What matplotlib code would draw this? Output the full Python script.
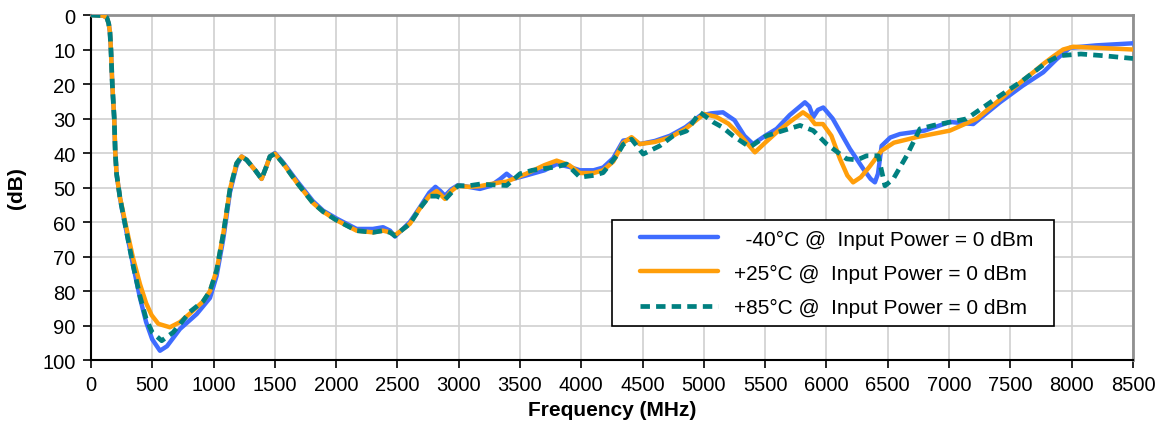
import numpy as np
import matplotlib.pyplot as plt
from matplotlib.patches import Rectangle

plt.rcParams['font.family'] = ['Liberation Sans', 'DejaVu Sans']

# -40C @ 0 dBm
freq_m40 = [0, 100, 130, 145, 155, 163, 174, 190, 198, 209, 237, 250, 291, 344, 400, 450, 500, 563, 620,
            726, 862, 971, 1025, 1079, 1134, 1188, 1229, 1270, 1340, 1392, 1430, 1460, 1501, 1567, 1678,
            1812, 1894, 2004, 2167, 2300, 2383, 2440, 2480, 2530, 2602, 2684, 2760, 2810, 2850, 2888, 2940,
            2994, 3080, 3173, 3260, 3340, 3391, 3444, 3550, 3700, 3799, 3900, 3989, 4100, 4178, 4260, 4342,
            4410, 4478, 4600, 4723, 4850, 4968, 5060, 5155, 5250, 5330, 5401, 5500, 5593, 5700, 5824, 5860,
            5892, 5930, 5974, 6050, 6191, 6300, 6360, 6395, 6420, 6450, 6520, 6599, 6800, 7007, 7197, 7415,
            7600, 7768, 7877, 7985, 8200, 8500]
db_m40 = [0, 0.2, 0.8, 2.5, 5, 10, 20, 30, 39.5, 46, 53, 55.5, 63, 72.6, 82, 89, 94, 97.3, 96,
          91, 86.7, 82, 75.6, 65, 51.4, 43.6, 41, 42, 45, 47.5, 44, 41, 40, 42.7, 48,
          54, 56.7, 59, 62, 62, 61.5, 62.5, 64.2, 62.5, 60, 55.7, 51.5, 49.8, 51, 52.4, 50.5,
          49.3, 49.8, 50.4, 49.5, 47.5, 46, 47.5, 46.5, 45, 43.2, 44, 45, 45, 44.2, 41.5, 36.4,
          36, 37.4, 36.5, 35, 32.5, 29.2, 28.5, 28.2, 30.5, 35, 37.4, 35, 33, 29, 25.3, 26.5,
          29.6, 27.5, 26.8, 30, 38.8, 44.6, 47.5, 48.5, 46, 37.9, 35.5, 34.5, 33.5, 31, 31.6, 25.3,
          20.5, 16.6, 12.8, 9.5, 8.8, 8.2]

# +25C @ 0 dBm
freq_p25 = [0, 100, 130, 145, 155, 163, 174, 190, 198, 209, 237, 250, 291, 344, 400, 450, 495, 550, 644,
            726, 808, 915, 971, 1025, 1079, 1134, 1188, 1229, 1270, 1340, 1392, 1430, 1460, 1501, 1567,
            1678, 1812, 1894, 2004, 2167, 2300, 2383, 2440, 2480, 2530, 2602, 2684, 2760, 2820, 2888, 2940,
            2994, 3080, 3173, 3260, 3340, 3391, 3444, 3550, 3700, 3799, 3900, 3989, 4100, 4178, 4260, 4342,
            4410, 4478, 4600, 4723, 4850, 5000, 5100, 5200, 5300, 5416, 5500, 5593, 5700, 5808, 5860, 5906,
            5971, 6040, 6110, 6170, 6217, 6280, 6350, 6450, 6550, 6735, 7007, 7224, 7415, 7600, 7687, 7768,
            7850, 7930, 8012, 8200, 8500]
db_p25 = [0, 0.2, 0.8, 2.5, 5, 10, 20, 30, 39.5, 46, 53, 55, 62, 70.5, 78, 83.5, 87, 89.5, 90.5,
          89, 86.5, 83, 80, 74, 63.5, 50.5, 43, 41, 42, 45, 47.5, 44, 41, 40.2, 43,
          48.5, 54.5, 57, 59.5, 62.5, 63, 62.5, 63, 63.8, 62.5, 60.5, 56, 52.5, 51, 53.3, 51,
          49.5, 49.8, 49.6, 49, 48.5, 48.3, 47.5, 46, 43.5, 42.2, 43.5, 45.8, 45.8, 45, 42.5, 37,
          35.4, 37.4, 36.8, 35.5, 33, 28.7, 29.5, 31.5, 35, 39.8, 37, 34, 31, 28.2, 29.5, 31.6,
          31.6, 35, 41.7, 46.5, 48.5, 47, 44, 39.3, 37, 35.4, 33.5, 30.1, 24.5, 19, 16.6, 14.2,
          12, 10, 9.2, 9.5, 10]

# +85C @ 0 dBm
freq_p85 = [0, 100, 130, 145, 155, 163, 174, 190, 198, 209, 237, 250, 291, 344, 400, 450, 500, 577, 670,
            740, 808, 915, 971, 1025, 1079, 1134, 1188, 1229, 1270, 1340, 1392, 1430, 1460, 1501, 1567,
            1678, 1812, 1894, 2004, 2167, 2300, 2383, 2440, 2480, 2530, 2602, 2684, 2760, 2820, 2888, 2940,
            2994, 3080, 3173, 3260, 3391, 3500, 3600, 3799, 3880, 3989, 4100, 4178, 4288, 4342, 4410, 4505,
            4641, 4750, 4859, 4968, 5074, 5150, 5237, 5375, 5511, 5647, 5784, 5892, 6001, 6164, 6250, 6327,
            6422, 6477, 6545, 6654, 6762, 6871, 7142, 7415, 7600, 7796, 7900, 8075, 8260, 8500]
db_p85 = [0, 0.2, 0.8, 2.5, 5, 10, 20, 30, 39.5, 46, 53, 55.5, 63, 72.6, 81.5, 88, 92, 94.4, 92,
          89, 86, 83, 80, 74, 63.5, 50.5, 43, 41, 42, 45, 47.5, 44, 41, 40.2, 43,
          48.5, 54.5, 57, 59.5, 62.5, 63, 62.5, 63, 64, 62.5, 60.5, 56, 52.5, 52.5, 53.5, 51.5,
          49.5, 49.5, 49, 49.2, 49.4, 46, 45, 44, 43.2, 47, 46.5, 45.7, 40.8, 37.5, 36, 40.3,
          37.9, 35, 33.6, 28.2, 31, 32.5, 35, 38.3, 35, 33.5, 32, 33.5, 37.4, 41.7, 42, 40.8,
          40.8, 49.5, 47.5, 40.8, 33, 32, 30.1, 23.4, 19, 13.7, 11.8, 11.3, 11.8, 12.6]

labels = ['  -40°C @  Input Power = 0 dBm',
          '+25°C @  Input Power = 0 dBm',
          '+85°C @  Input Power = 0 dBm']

fig = plt.figure(figsize=(11.6, 4.35), dpi=100)
ax = fig.add_axes([0.0784, 0.170, 0.8983, 0.7932])

ax.plot(freq_m40, db_m40, color='#3f6cff', lw=3.2, label=labels[0], solid_capstyle='round',
        solid_joinstyle='round', zorder=3)
ax.plot(freq_p25, db_p25, color='#ff9e0a', lw=3.2, label=labels[1], solid_capstyle='round',
        solid_joinstyle='round', zorder=4)
ax.plot(freq_p85, db_p85, color='#008080', lw=3.4, label=labels[2], dashes=(2.0, 1.3), zorder=5)

ax.set_xlim(0, 8500)
ax.set_ylim(100, 0)
ax.set_xticks(np.arange(0, 8501, 500))
ax.set_yticks(np.arange(0, 101, 10))
ax.tick_params(labelsize=14.5, direction='out', length=6, width=1.2, color='black', pad=5)
ax.grid(True, color='#d0d0d0', lw=1.2)
ax.set_axisbelow(True)

for s in ['left', 'bottom']:
    ax.spines[s].set_color('black')
    ax.spines[s].set_linewidth(1.5)
for s in ['top', 'right']:
    ax.spines[s].set_color('#909090')
    ax.spines[s].set_linewidth(2)

ax.set_xlabel('Frequency (MHz)', fontsize=15, fontweight='bold', labelpad=4)
ax.set_ylabel('(dB)', fontsize=15, fontweight='bold', labelpad=12)

# legend box drawn separately (Excel style wide padding)
box = Rectangle((0.5, 0.0986), 0.424, 0.3072, transform=ax.transAxes, facecolor='white',
                edgecolor='black', lw=1.2, zorder=6)
ax.add_patch(box)
leg = ax.legend(loc='upper left', bbox_to_anchor=(0.527, 0.378), fontsize=15, frameon=False,
                handlelength=3.75, handletextpad=0.75, labelspacing=0.72, borderpad=0,
                borderaxespad=0)
leg.set_zorder(7)

fig.savefig('out.png', dpi=100)
